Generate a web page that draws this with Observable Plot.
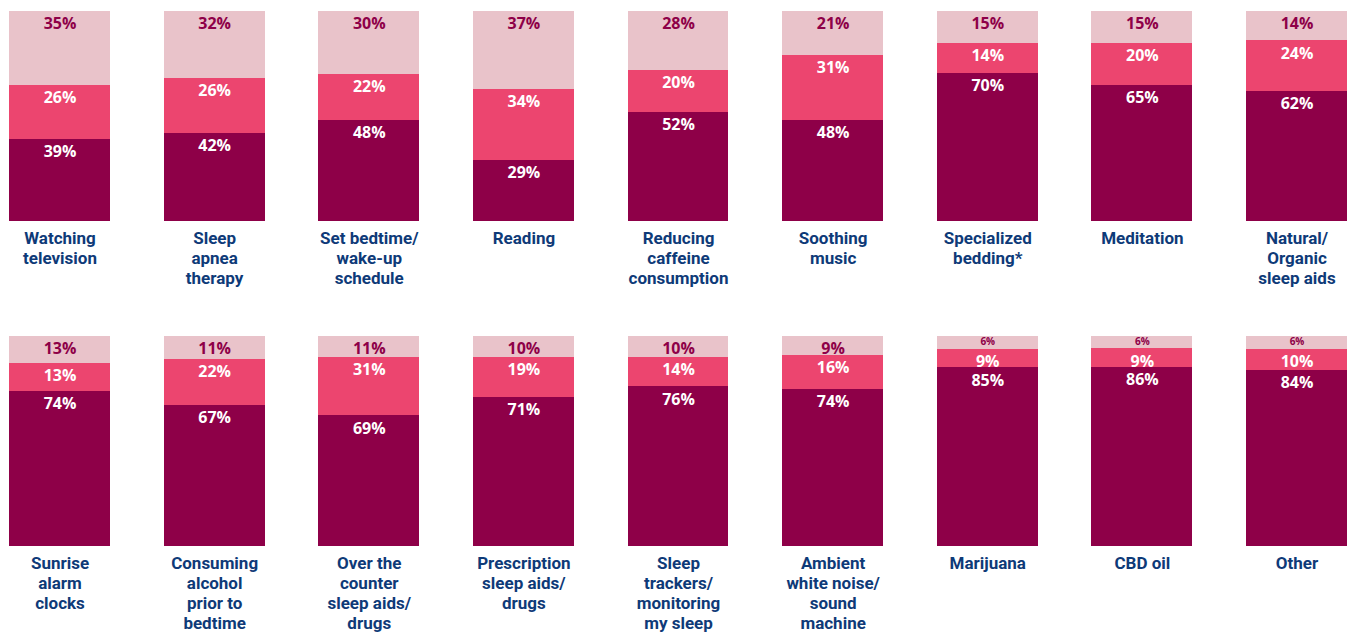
<!DOCTYPE html>
<html>
<head>
<meta charset="utf-8">
<script src="https://cdn.jsdelivr.net/npm/d3@7"></script>
<script src="https://cdn.jsdelivr.net/npm/@observablehq/plot@0.6"></script>
<style>
  html, body { margin: 0; padding: 0; background: #fff; }
  #chart svg { display: block; }
  #chart rect { shape-rendering: crispEdges; }
</style>
</head>
<body>
<div id="chart"></div>
<script>
// Categories (two rows of nine)
const categories = [
  "Watching\ntelevision", "Sleep\napnea\ntherapy", "Set bedtime/\nwake-up\nschedule",
  "Reading", "Reducing\ncaffeine\nconsumption", "Soothing\nmusic",
  "Specialized\nbedding*", "Meditation", "Natural/\nOrganic\nsleep aids",
  "Sunrise\nalarm\nclocks", "Consuming\nalcohol\nprior to\nbedtime", "Over the\ncounter\nsleep aids/\ndrugs",
  "Prescription\nsleep aids/\ndrugs", "Sleep\ntrackers/\nmonitoring\nmy sleep", "Ambient\nwhite noise/\nsound\nmachine",
  "Marijuana", "CBD oil", "Other"
];
// Series values in percent (bottom dark, middle pink, top light)
const darkValues  = [39, 42, 48, 29, 52, 48, 70, 65, 62, 74, 67, 69, 71, 76, 74, 85, 86, 84];
const midValues   = [26, 26, 22, 34, 20, 31, 14, 20, 24, 13, 22, 31, 19, 14, 16, 9, 9, 10];
const lightValues = [35, 32, 30, 37, 28, 21, 15, 15, 14, 13, 11, 11, 10, 10, 9, 6, 6, 6];
const seriesNames = ["dark", "mid", "light"];
const seriesColors = ["#8E0048", "#EC456F", "#E9C3CA"];

const perRow = 9;
const table = [];
categories.forEach((c, i) => {
  const vals = [darkValues[i], midValues[i], lightValues[i]];
  const total = d3.sum(vals);
  vals.forEach((v, k) => table.push({
    category: c, row: Math.floor(i / perRow), pos: i % perRow,
    series: seriesNames[k], value: v, share: v / total
  }));
});
const labels = categories.map((c, i) => ({label: c, row: Math.floor(i / perRow), pos: i % perRow}));

const big = d => d.share >= 0.08;
const labelFont = "Roboto, 'Noto Sans', sans-serif";
const numFont = "'Open Sans', 'Noto Sans', sans-serif";

const chart = Plot.plot({
  width: 1349,
  height: 632,
  marginTop: 11,
  marginBottom: 86,
  marginLeft: 9,
  marginRight: 2,
  style: {fontFamily: labelFont, background: "#fff"},
  x: {type: "band", domain: d3.range(perRow), paddingInner: 0.347, paddingOuter: 0, round: false, axis: null},
  y: {domain: [0, 1], axis: null},
  fy: {domain: [0, 1], paddingInner: 0.3538, paddingOuter: 0, round: false, axis: null},
  color: {domain: seriesNames, range: seriesColors},
  marks: [
    Plot.barY(table, Plot.stackY({offset: "normalize"}, {
      x: "pos", y: "value", fy: "row", fill: "series", z: "series"
    })),
    // labels on light (top) segments
    Plot.text(table, Plot.stackY2({offset: "normalize"}, {
      x: "pos", y: "value", fy: "row", z: "series",
      text: d => d.series === "light" && big(d) ? d.value + "%" : "",
      fill: "#8E0048", fontFamily: numFont, fontSize: 16, fontWeight: 700, dy: 12
    })),
    // labels on dark and mid segments
    Plot.text(table, Plot.stackY2({offset: "normalize"}, {
      x: "pos", y: "value", fy: "row", z: "series",
      text: d => d.series !== "light" && big(d) ? d.value + "%" : "",
      fill: "#ffffff", fontFamily: numFont, fontSize: 16, fontWeight: 700, dy: 12.5
    })),
    // small segment labels, centred
    Plot.text(table, Plot.stackY({offset: "normalize"}, {
      x: "pos", y: "value", fy: "row", z: "series",
      text: d => big(d) ? "" : d.value + "%",
      fill: "#8E0048", fontFamily: numFont, fontSize: 10, fontWeight: 700, dy: -0.5
    })),
    // category labels below bars
    Plot.text(labels, {
      x: "pos", fy: "row", frameAnchor: "bottom", text: "label",
      lineAnchor: "top", dy: 8.5, lineHeight: 1.18,
      fill: "#0E3A78", fontSize: 17, fontWeight: 700
    })
  ]
});
document.getElementById("chart").appendChild(chart);
</script>
</body>
</html>
